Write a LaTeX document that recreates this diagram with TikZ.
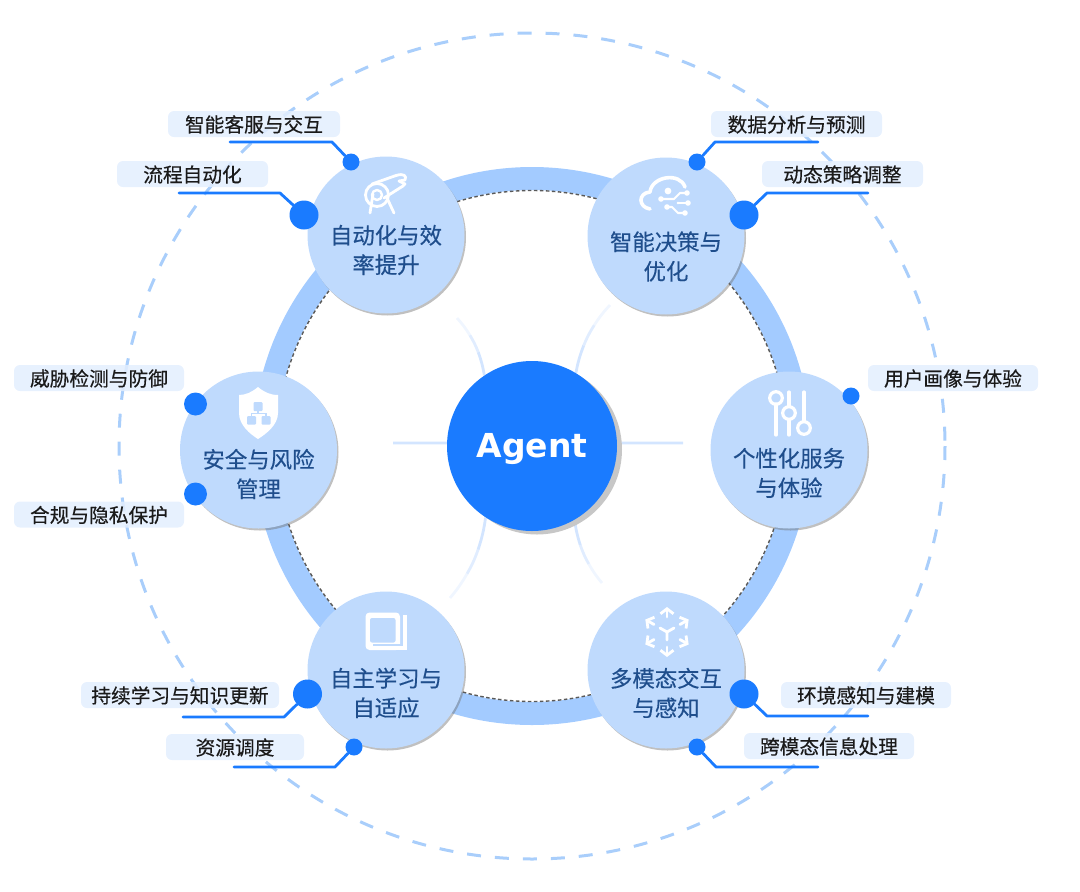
\documentclass[tikz,border=0pt]{standalone}
\usepackage{xcolor}
\usepackage{fontspec}
\setmainfont{Noto Sans CJK SC}[FakeBold=0.35]
\newfontfamily\agentfont{DejaVu Sans}
\usepackage{tikz}
\usetikzlibrary{shadows,positioning,arrows.meta,backgrounds}
\definecolor{accent}{HTML}{1A7BFF}
\definecolor{ringBlue}{HTML}{A3CBFF}
\definecolor{satBlue}{HTML}{BFDAFD}
\definecolor{tagBlue}{HTML}{E3EEFE}
\definecolor{guideBlue}{HTML}{A9CEFB}
\definecolor{satText}{HTML}{1F4E8C}
\definecolor{tagText}{HTML}{1A1A1A}
\definecolor{spokeNear}{HTML}{D3E5FF}
\definecolor{spokeMid}{HTML}{E1EDFF}
\definecolor{spokeFar}{HTML}{F0F6FF}

\begin{document}
\begin{tikzpicture}[
  x=1pt, y=-1pt,
  hubnode/.style={circle, fill=accent, text=white, minimum size=170pt, inner sep=0pt,
               text height=22pt, text depth=0pt,
               font=\agentfont\bfseries\fontsize{33}{38}\selectfont,
               drop shadow={shadow xshift=5pt, shadow yshift=-3.5pt, opacity=1, fill=black!22}},
  satnode/.style={circle, fill=satBlue, minimum size=157pt, inner sep=0pt,
               drop shadow={shadow xshift=1.5pt, shadow yshift=-2pt, opacity=.45, fill=black!55}},
  sattext/.style={align=center, text=satText, inner sep=0pt, font=\fontsize{22.4}{29.5}\selectfont},
  tagnode/.style={fill=tagBlue, fill opacity=.85, text opacity=1, text=tagText, rounded corners=6pt,
               minimum height=26pt, inner sep=0pt, text height=16pt, text depth=0pt,
               font=\fontsize{19.7}{24}\selectfont},
  dotsm/.style={circle, fill=accent, minimum size=17pt, inner sep=0pt},
  dotmd/.style={circle, fill=accent, minimum size=23pt, inner sep=0pt},
  dotlg/.style={circle, fill=accent, minimum size=29pt, inner sep=0pt},
  lead/.style={draw=accent, line width=2.8pt, line cap=round, line join=round},
  spokeline/.style={line width=2.8pt},
  icon/.style={draw=white, line width=2.8pt, line cap=round, line join=round}
]
  \useasboundingbox (0,0) rectangle (1080,892);

  \draw[guideBlue, line width=3pt, dash pattern=on 14pt off 14pt] (532,446) circle (413);
  \draw[ringBlue, line width=23pt] (532,446) circle (267.5);
  \draw[black!65, line width=1.4pt, dash pattern=on 3.5pt off 2.5pt] (532,446) circle (255.5);

  \node[hubnode] (agent) at (532,446) {Agent};

  \coordinate (endW) at (393,443);
  \coordinate (endE) at (683,443);
  \coordinate (endNW) at (457,318);
  \coordinate (endNE) at (610,305);
  \coordinate (endSW) at (450,598);
  \coordinate (endSE) at (602,583);
  \begin{scope}[on background layer]
    \draw[spokeline, spokeNear] (agent.178) -- (endW);
    \draw[spokeline, spokeNear] (agent.2) -- (endE);
    \foreach \ang/\tip/\whole/\part in {124/endNW/-15/-5, 59/endNE/15/5, 237/endSW/15/5, 300/endSE/-15/-5} {
      \path (agent.\ang) to[bend left=\whole] coordinate[pos=.36] (partA) coordinate[pos=.68] (partB) (\tip);
      \draw[spokeline, spokeFar] (partB) to[bend left=\part] (\tip);
      \draw[spokeline, spokeMid] (partA) to[bend left=\part] (partB);
      \draw[spokeline, spokeNear] (agent.\ang) to[bend left=\part] (partA);
    }
  \end{scope}

  \node[satnode] (autosat) at (386,235) {};
  \node[satnode] (decsat) at (666,236) {};
  \node[satnode] (persat) at (789,450) {};
  \node[satnode] (mmsat) at (666,670) {};
  \node[satnode] (learnsat) at (386,670) {};
  \node[satnode] (safesat) at (258.5,450) {};

  \node[sattext] (autotxt) at (386,250) {自动化与效\\率提升};
  \node[sattext] (dectxt) at (666,256.5) {智能决策与\\优化};
  \node[sattext] (pertxt) at (789,473) {个性化服务\\与体验};
  \node[sattext] (mmtxt) at (666,693) {多模态交互\\与感知};
  \node[sattext] (learntxt) at (386,693) {自主学习与\\自适应};
  \node[sattext] (safetxt) at (258.5,474) {安全与风险\\管理};

  % icons
  \draw[icon] (377,195) circle (11.5);
  \draw[icon, line width=2.4pt] (377,195) circle (5);
  \draw[icon] (373,194) -- (370,213);
  \draw[icon] (387,198) -- (394,213);
  \draw[icon] (372,184) -- (396,175.5);
  \draw[icon] (384,198) -- (403,186);
  \draw[icon] (396,175.5) .. controls (404,173) and (407,176) .. (405,180) -- (399,181);
  \draw[icon] (399,181) -- (405,184) -- (403,186);

  \draw[icon, line width=3.6pt] (650,209) .. controls (638,207) and (638,193) .. (650,192)
    .. controls (652,176) and (680,172) .. (685,187);
  \fill[white] (668,191) circle (3.4) (661,199) circle (2.8) (687,193) circle (2.8)
    (688,203) circle (2.8) (667,207) circle (2.8) (685,213) circle (2.8) (678,203) circle (1.4);
  \draw[icon, line width=2.1pt] (661,199) -- (674,199) -- (680,193) -- (687,193);
  \draw[icon, line width=2.1pt] (678,203) -- (688,203);
  \draw[icon, line width=2.1pt] (667,207) -- (672,207) -- (678,213) -- (685,213);

  \draw[icon, line width=3.2pt] (776,404) -- (776,435);
  \draw[icon, line width=3.2pt] (789,392) -- (789,406);
  \draw[icon, line width=3.2pt] (789,420) -- (789,435);
  \draw[icon, line width=3.2pt] (804,392) -- (804,421);
  \draw[icon, line width=3.2pt] (776,398) circle (6.3);
  \draw[icon, line width=3.2pt] (789,413) circle (6.3);
  \draw[icon, line width=3.2pt] (804,428) circle (6.3);

  \fill[white] (258,387) .. controls (252,392) and (246,395) .. (239,395) -- (239,413)
    .. controls (239,425) and (250,434) .. (258,439)
    .. controls (266,434) and (278,425) .. (278,413) -- (278,395)
    .. controls (270,395) and (264,392) .. (258,387) -- cycle;
  \fill[satBlue, rounded corners=1pt] (253.5,402) rectangle (262.5,411);
  \fill[satBlue, rounded corners=1pt] (247,416) rectangle (256,424.5);
  \fill[satBlue, rounded corners=1pt] (261.5,416) rectangle (270.5,424.5);
  \draw[satBlue, line width=1.4pt] (258,411) -- (258,413.5) (251.5,416) -- (251.5,413.5) -- (266,413.5) -- (266,416);

  \fill[white, rounded corners=4pt] (365.5,612.5) rectangle (400,650);
  \fill[satBlue, rounded corners=2pt] (370,618) rectangle (395.5,642.5);
  \fill[satBlue] (373,643.5) rectangle (400.5,646);
  \fill[white] (402.5,615) rectangle (406.5,650);
  \fill[white] (372,646) rectangle (406.5,650);

  \foreach \a in {30,90,...,330}
    \draw[icon, line width=2.8pt, -{Straight Barb[length=5pt, width=13pt, line width=2.8pt]}]
      (667,632) ++(\a:15) -- ++(\a:10);
  \draw[icon, line width=2.8pt] (660,628) -- (667,632) -- (674,628) (667,632) -- (667,640);

  % tags
  \node[tagnode, minimum width=172pt] (tagservice) at (254,124) {智能客服与交互};
  \node[tagnode, minimum width=151pt] (tagflow) at (192.5,174) {流程自动化};
  \node[tagnode, minimum width=171pt] (tagdata) at (796.5,124) {数据分析与预测};
  \node[tagnode, minimum width=161pt] (tagstrategy) at (842.5,174) {动态策略调整};
  \node[tagnode, minimum width=170pt] (taguser) at (953,378) {用户画像与体验};
  \node[tagnode, minimum width=170pt] (tagthreat) at (99,378) {威胁检测与防御};
  \node[tagnode, minimum width=170pt] (tagrule) at (99,514.5) {合规与隐私保护};
  \node[tagnode, minimum width=170pt] (tagenv) at (866,695) {环境感知与建模};
  \node[tagnode, minimum width=170pt] (tagcross) at (829,746) {跨模态信息处理};
  \node[tagnode, minimum width=198pt] (tagkeep) at (180,695) {持续学习与知识更新};
  \node[tagnode, minimum width=138pt] (tagres) at (235,747) {资源调度};

  % dots and leads
  \node[dotsm] (dservice) at (351,162) {};
  \node[dotlg] (dflow) at (304,215) {};
  \node[dotsm] (ddata) at (697,162) {};
  \node[dotlg] (dstrategy) at (744,215) {};
  \node[dotsm] (duser) at (851,396) {};
  \node[dotmd] (dthreat) at (195.5,404) {};
  \node[dotmd] (drule) at (195.5,494) {};
  \node[dotlg] (denv) at (744,694) {};
  \node[dotsm] (dcross) at (697,747) {};
  \node[dotlg] (dkeep) at (307.5,694) {};
  \node[dotsm] (dres) at (354,747) {};

  \coordinate (eservice) at (230,142);
  \coordinate (bservice) at (332,142);
  \coordinate (eflow) at (179,193);
  \coordinate (bflow) at (280,193);
  \coordinate (edata) at (818,142);
  \coordinate (bdata) at (715,142);
  \coordinate (estrategy) at (868,193);
  \coordinate (bstrategy) at (767,193);
  \coordinate (eenv) at (868,716);
  \coordinate (benv) at (767,716);
  \coordinate (ecross) at (818,767);
  \coordinate (bcross) at (716,767);
  \coordinate (ekeep) at (183,717);
  \coordinate (bkeep) at (284,717);
  \coordinate (eres) at (234,767);
  \coordinate (bres) at (335,767);

  \draw[lead] (dservice) -- (bservice) -- (eservice);
  \draw[lead] (dflow) -- (bflow) -- (eflow);
  \draw[lead] (ddata) -- (bdata) -- (edata);
  \draw[lead] (dstrategy) -- (bstrategy) -- (estrategy);
  \draw[lead] (denv) -- (benv) -- (eenv);
  \draw[lead] (dcross) -- (bcross) -- (ecross);
  \draw[lead] (dkeep) -- (bkeep) -- (ekeep);
  \draw[lead] (dres) -- (bres) -- (eres);
\end{tikzpicture}
\end{document}
